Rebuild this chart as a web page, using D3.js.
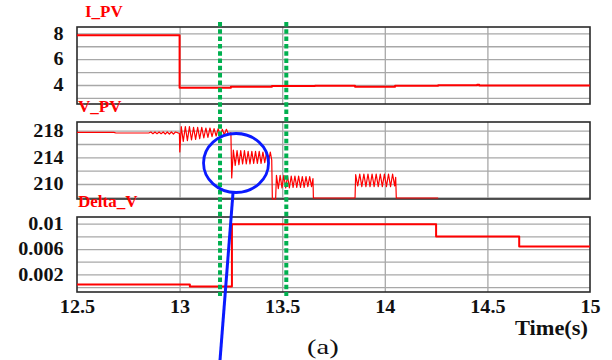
<!DOCTYPE html>
<html>
<head>
<meta charset="utf-8">
<script src="https://cdn.jsdelivr.net/npm/d3@7"></script>
<style>
	body { margin: 0; background: #fff; }
	svg { display: block; }
	text { font-family: 'Liberation Serif', 'DejaVu Serif', serif; }
</style>
</head>
<body>
<svg id="chart" width="612" height="360"></svg>
<script>
// time axis
const timeDomain = [12.5, 15]
const timeTicks = [12.5, 13, 13.5, 14, 14.5, 15]
const markerTimes = [13.197, 13.52]

// I_PV (step)
const ipvTime = [12.5, 13.0, 13.25, 13.45, 13.66, 13.855, 14.05, 14.26, 14.45, 14.46, 15]
const ipvValue = [7.85, 3.78, 3.87, 3.93, 3.95, 3.86, 3.95, 3.98, 4.02, 3.97, 3.97]
const ipvTicks = [8, 6, 4]
const ipvGrid = [3, 4, 5, 6, 7, 8]

// V_PV (read point by point, peaks and troughs)
const vpvTime = [
	12.5, 12.68, 12.69, 12.85, 12.86, 12.87, 12.88, 12.89, 12.9, 12.91, 12.92, 12.93, 12.94, 12.95, 12.96, 12.97, 12.98, 12.999,
	13.001, 13.008, 13.018, 13.028, 13.038, 13.048, 13.058, 13.068, 13.078, 13.088, 13.098, 13.108, 13.118, 13.128,
	13.138, 13.148, 13.158, 13.168, 13.178, 13.188, 13.198, 13.208, 13.218, 13.228, 13.238, 13.25,
	13.254, 13.262, 13.271, 13.28, 13.289, 13.298, 13.307, 13.316, 13.325, 13.334, 13.343, 13.352, 13.361, 13.37,
	13.379, 13.388, 13.397, 13.406, 13.415, 13.424, 13.433, 13.442, 13.449,
	13.452, 13.468, 13.472, 13.481, 13.49, 13.499, 13.508, 13.517, 13.526, 13.535, 13.544, 13.553, 13.562, 13.571,
	13.58, 13.589, 13.598, 13.607, 13.616, 13.625, 13.634, 13.643, 13.65, 13.652,
	13.855, 13.858, 13.868, 13.878, 13.888, 13.898, 13.908, 13.918, 13.928, 13.938, 13.948, 13.958, 13.968, 13.978,
	13.988, 13.998, 14.008, 14.018, 14.028, 14.038, 14.048, 14.053, 14.056, 14.26
]
const vpvValue = [
	217.75, 217.75, 217.65, 217.65, 217.8, 217.55, 217.8, 217.55, 217.8, 217.55, 217.8, 217.5, 217.8, 217.5, 217.8, 217.5, 217.8, 217.6,
	214.8, 218.6, 216.4, 218.6, 216.5, 218.6, 216.6, 218.5, 216.7, 218.5, 216.8, 218.5, 216.9, 218.4,
	217.0, 218.4, 217.1, 218.3, 217.2, 218.3, 217.3, 218.2, 217.4, 218.2, 217.5, 217.7,
	210.9, 215.1, 212.8, 215.0, 212.9, 215.0, 213.0, 215.0, 213.0, 214.9, 213.0, 214.9, 213.1, 214.9,
	213.1, 214.9, 213.1, 214.8, 213.2, 214.8, 213.2, 214.8, 213.6,
	207.75, 207.75, 211.3, 209.3, 211.3, 209.4, 211.3, 209.4, 211.2, 209.4, 211.2, 209.5, 211.2, 209.5,
	211.2, 209.5, 211.1, 209.5, 211.1, 209.6, 211.1, 209.6, 210.8, 207.9,
	207.9, 211.4, 209.7, 211.5, 209.6, 211.5, 209.6, 211.5, 209.6, 211.5, 209.6, 211.5, 209.6, 211.5,
	209.6, 211.5, 209.6, 211.5, 209.6, 211.5, 209.7, 211.0, 207.9, 207.9
]
const vpvTicks = [218, 214, 210]
const vpvGrid = [208, 210, 212, 214, 216, 218]

// Delta_V (step)
const deltaTime = [12.5, 13.05, 13.255, 14.25, 14.655, 15]
const deltaValue = [0.0004, 0.0001, 0.0099, 0.008, 0.0064, 0.0064]
const deltaTicks = [0.01, 0.006, 0.002]
const deltaGrid = [0, 0.002, 0.004, 0.006, 0.008, 0.01]

const svg = d3.select('#chart')
const left = 77
const right = 590
const stretch = 'scale(1.12,1)'
const serif = "'Liberation Serif', 'DejaVu Serif', serif"

const x = d3.scaleLinear().domain(timeDomain).range([left, right])

const panels = [
	{ title: 'I_PV', titleX: 85, top: 27, bottom: 104, domain: [2.53, 8.49], ticks: ipvTicks, grid: ipvGrid, fmt: d3.format('d'), time: ipvTime, value: ipvValue, curve: d3.curveStepAfter, width: 2 },
	{ title: 'V_PV', titleX: 78, top: 122, bottom: 199, domain: [207.75, 219.3], ticks: vpvTicks, grid: vpvGrid, fmt: d3.format('d'), time: vpvTime, value: vpvValue, curve: d3.curveLinear, width: 1.2 },
	{ title: 'Delta_V', titleX: 78, top: 217, bottom: 292, domain: [-0.00078, 0.01106], ticks: deltaTicks, grid: deltaGrid, fmt: d => String(+d.toFixed(3)), time: deltaTime, value: deltaValue, curve: d3.curveStepAfter, width: 2 }
]

const styleText = sel => sel
	.style('font-family', serif)
	.style('font-weight', 'bold')
	.style('font-size', '18px')
	.attr('fill', '#111')
	.attr('transform', stretch)

panels.forEach(p => {
	const y = d3.scaleLinear().domain(p.domain).range([p.bottom, p.top])
	const g = svg.append('g').attr('class', 'panel')

	// grid
	g.append('g')
		.attr('transform', `translate(${left},0)`)
		.call(d3.axisLeft(y).tickValues(p.grid).tickSize(-(right - left)).tickFormat(''))
		.call(a => a.select('.domain').remove())
		.call(a => a.selectAll('line').attr('stroke', '#a8a8a8').attr('stroke-width', 1.3))

	g.append('g')
		.attr('transform', `translate(0,${p.bottom})`)
		.call(d3.axisBottom(x).tickValues(timeTicks.slice(1, -1)).tickSize(-(p.bottom - p.top)).tickFormat(''))
		.call(a => a.select('.domain').remove())
		.call(a => a.selectAll('line').attr('stroke', '#a8a8a8').attr('stroke-width', 1.3))

	// tick labels
	g.append('g')
		.attr('transform', `translate(${left},0)`)
		.call(d3.axisLeft(y).tickValues(p.ticks).tickSize(0).tickPadding(12).tickFormat(p.fmt))
		.call(a => a.select('.domain').remove())
		.call(a => a.selectAll('text').call(styleText))

	// frame
	g.append('rect')
		.attr('x', left)
		.attr('y', p.top)
		.attr('width', right - left)
		.attr('height', p.bottom - p.top)
		.attr('fill', 'none')
		.attr('stroke', '#2a2a2a')
		.attr('stroke-width', 1.6)

	// trace
	const line = d3.line()
		.x((d, j) => x(p.time[j]))
		.y((d, j) => y(p.value[j]))
		.curve(p.curve)

	g.append('path')
		.datum(p.value)
		.attr('d', line)
		.attr('fill', 'none')
		.attr('stroke', '#ff0000')
		.attr('stroke-width', p.width)
		.attr('stroke-linejoin', 'round')

	g.append('text')
		.attr('x', p.titleX)
		.attr('y', p.top - 10)
		.style('font-family', serif)
		.style('font-weight', 'bold')
		.style('font-size', '17px')
		.attr('fill', '#ff0000')
		.text(p.title)

	p.y = y
})

// time axis labels
svg.append('g')
	.attr('transform', `translate(0,${panels[2].bottom})`)
	.call(d3.axisBottom(x).tickValues(timeTicks).tickSize(0).tickPadding(8).tickFormat(d3.format('')))
	.call(a => a.select('.domain').remove())
	.call(a => a.selectAll('text').call(styleText))

svg.append('text')
	.attr('transform', `translate(${right - 2},335) ${stretch}`)
	.attr('text-anchor', 'end')
	.style('font-family', serif)
	.style('font-weight', 'bold')
	.style('font-size', '20px')
	.attr('fill', '#111')
	.text('Time(s)')

svg.append('text')
	.attr('transform', 'translate(307,354) scale(1.3,1)')
	.style('font-family', serif)
	.style('font-size', '22px')
	.attr('fill', '#111')
	.text('(a)')

// green marker lines
svg.append('g')
	.selectAll('line')
	.data(markerTimes)
	.join('line')
	.attr('x1', d => x(d))
	.attr('x2', d => x(d))
	.attr('y1', 22)
	.attr('y2', 296)
	.attr('stroke', '#00b04f')
	.attr('stroke-width', 4)
	.attr('stroke-dasharray', '4.5,2.8')

// blue annotation
const cx = x(13.275)
const cy = panels[1].y(213.15)
svg.append('ellipse')
	.attr('cx', cx)
	.attr('cy', cy)
	.attr('rx', 32.5)
	.attr('ry', 29.5)
	.attr('fill', 'none')
	.attr('stroke', '#0a1aff')
	.attr('stroke-width', 2.8)

svg.append('line')
	.attr('x1', cx - 3)
	.attr('y1', cy + 29.5)
	.attr('x2', x(13.197))
	.attr('y2', 360)
	.attr('stroke', '#0a1aff')
	.attr('stroke-width', 3)
</script>
</body>
</html>
